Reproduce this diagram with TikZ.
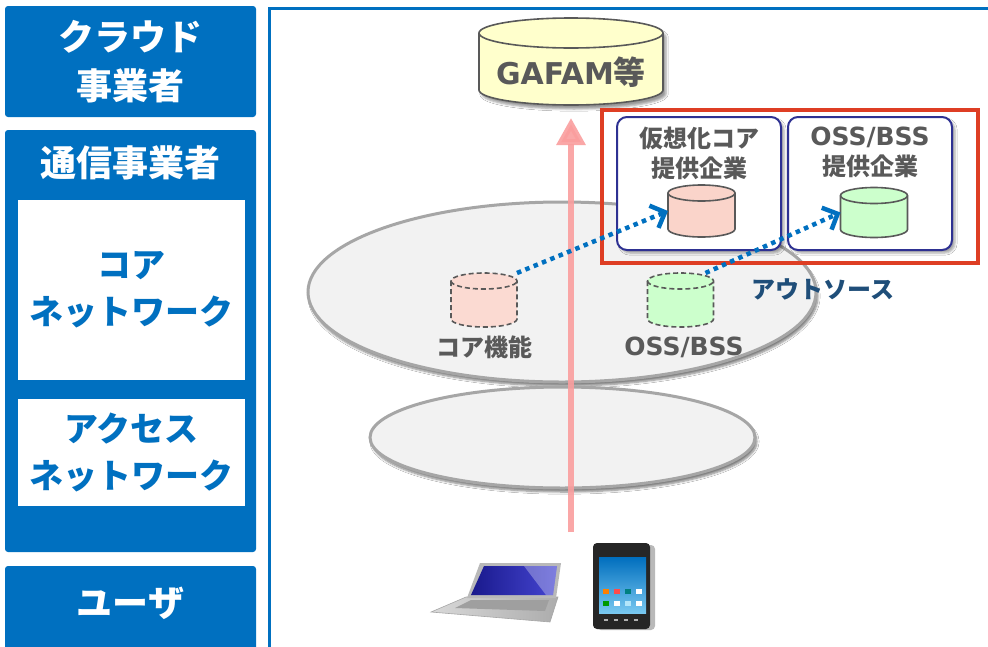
\documentclass[tikz,border=0pt]{standalone}
\usepackage{fontspec}
\setmainfont{Noto Sans CJK JP}
\newfontfamily\latin{DejaVu Sans}
\usetikzlibrary{positioning,shapes.geometric,arrows.meta,shadows.blur}

\definecolor{laybl}{RGB}{0,112,192}
\definecolor{txtgr}{RGB}{89,89,89}
\definecolor{outbl}{RGB}{31,78,121}
\definecolor{frred}{RGB}{222,62,36}
\definecolor{bxnv}{RGB}{46,49,146}
\definecolor{dbyel}{RGB}{255,255,204}
\definecolor{dbpnk}{RGB}{250,212,202}
\definecolor{dbgrn}{RGB}{204,255,204}
\definecolor{upink}{RGB}{250,158,158}
\definecolor{lapbla}{RGB}{25,25,140}
\definecolor{lapblb}{RGB}{70,70,210}
\definecolor{phbla}{RGB}{0,110,190}
\definecolor{phblb}{RGB}{120,200,240}

% cylinder round a named node: [line opts]{node}{half width}{cap}{body opts}
\newcommand\dbcyl[5][]{%
    \filldraw[dbline,#1,#5] ([yshift=-#4]#2.north west) -- ([yshift=#4]#2.south west)
        arc[start angle=180, end angle=360, x radius=#3, y radius=#4]
        -- ([yshift=-#4]#2.north east)
        arc[start angle=0, end angle=180, x radius=#3, y radius=#4] -- cycle;
    \draw[dbline,#1] ([yshift=-#4]#2.north west)
        arc[start angle=180, end angle=360, x radius=#3, y radius=#4];
}

\begin{document}
\begin{tikzpicture}[x=1pt, y=-1pt,
    lay/.style={fill=laybl, rounded corners=3pt, minimum width=251pt,
        inner sep=0pt, outer sep=0pt},
    laytxt/.style={text=white, font=\bfseries\fontsize{36}{49}\selectfont,
        align=center},
    pane/.style={fill=white, minimum width=227pt, inner sep=0pt,
        text=laybl, font=\bfseries\fontsize{34}{47}\selectfont, align=center},
    net/.style={ellipse, draw=gray!70, line width=3pt, fill=gray!10,
        inner sep=0pt,
        blur shadow={shadow xshift=2pt, shadow yshift=-4pt,
            shadow blur steps=6, shadow opacity=50}},
    dbbox/.style={inner sep=0pt, outer sep=0pt},
    dbline/.style={draw=txtgr, line width=1.6pt},
    dbdash/.style={dash pattern=on 5pt off 3pt},
    fnlbl/.style={text=txtgr, font=\bfseries\fontsize{24}{30}\selectfont,
        align=center},
    cobox/.style={draw=bxnv, line width=2pt, fill=white,
        rounded corners=10pt, minimum width=164pt, minimum height=133pt,
        blur shadow={shadow xshift=3pt, shadow yshift=-3pt,
            shadow opacity=35}},
    outs/.style={draw=laybl, line width=4.5pt, dash pattern=on 4.5pt off 4.5pt,
        -{Straight Barb[length=12pt, width=24pt]}}
    ]
    \useasboundingbox (0,0) rectangle (988,646);
    \clip (0,0) rectangle (988,646);
    \fill[white] (0,0) rectangle (988,646);

    % left column
    \node[lay, laytxt, minimum height=111pt] (cloud) at (130.5,61.5) {クラウド\\事業者};
    \node[lay, minimum height=422pt] (carrier) at (130.5,341) {};
    \node[laytxt] (carriertxt) at (130.5,163) {通信事業者};
    \node[pane, minimum height=180pt] (corepane) at (131.5,290) {コア\\ネットワーク};
    \node[pane, minimum height=107pt] (accpane) at (131.5,452.5) {アクセス\\ネットワーク};
    \node[lay, minimum height=100pt, anchor=north] (user) at (130.5,566) {};
    \node[laytxt] (usertxt) at (130.5,603) {ユーザ};

    % right panel
    \draw[laybl, line width=3.5pt] (269.5,700) -- (269.5,8.5) -- (1000,8.5);

    % networks
    \node[net, minimum width=508pt, minimum height=180pt] (corenet) at (562,292) {};
    \node[net, minimum width=385pt, minimum height=101pt] (accnet) at (562.5,437.5) {};

    \node[dbbox, minimum width=66pt, minimum height=54pt] (corefn) at (484,300) {};
    \dbcyl[dbdash]{corefn}{33pt}{8pt}{fill=dbpnk!85}
    \node[fnlbl] (corelbl) at (484,347) {コア機能};
    \node[dbbox, minimum width=66pt, minimum height=54pt] (ossfn) at (680.5,300) {};
    \dbcyl[dbdash]{ossfn}{33pt}{8pt}{fill=dbgrn}
    \node[fnlbl] (osslbl) at (684,347) {{\latin\fontsize{25}{30}\selectfont OSS/BSS}};

    % cloud side
    \node[dbbox, minimum width=184pt, minimum height=87pt] (gafam) at (571,61.5) {};
    \dbcyl{gafam}{92pt}{15pt}{fill=dbyel,
        blur shadow={shadow xshift=3pt, shadow yshift=-4pt, shadow opacity=40}}
    \node[text=txtgr, font=\bfseries\fontsize{32}{38}\selectfont]
        (gafamtxt) at (571,72) {{\latin\fontsize{30}{38}\selectfont GAFAM}等};

    \coordinate (usr) at (571,532);
    \coordinate (up) at (571,118);
    \draw[upink, line width=6pt, opacity=.9,
        -{Triangle[length=27pt, width=28pt]}] (usr) -- (up);

    % outsourcing
    \node[draw=frred, line width=4.5pt, minimum width=376pt, minimum height=153pt,
        inner sep=0pt] (outframe) at (790,186.5) {};
    \node[cobox] (vcbox) at (699,183.5) {};
    \node[fnlbl, below=7pt of vcbox.north] (vctxt) {仮想化コア\\提供企業};
    \node[cobox] (osbox) at (870,183.5) {};
    \node[fnlbl, below=7pt of osbox.north] (ostxt)
        {{\latin\fontsize{25}{30}\selectfont OSS/BSS}\\提供企業};

    \node[dbbox, minimum width=67pt, minimum height=52pt] (vcdb) at (701.5,211) {};
    \dbcyl{vcdb}{33.5pt}{8pt}{fill=dbpnk}
    \node[dbbox, minimum width=67pt, minimum height=50pt] (vossdb) at (874,212.5) {};
    \dbcyl{vossdb}{33.5pt}{8pt}{fill=dbgrn}

    \draw[outs] (corefn.north east) -- (vcdb.west);
    \draw[outs] ([xshift=-8pt]ossfn.north east) -- (vossdb.west);

    \node[text=outbl, font=\bfseries\fontsize{24}{30}\selectfont] (outlbl) at (823,289) {アウトソース};

    % laptop
    \shade[left color=gray!30, right color=gray!65, draw=gray!70, line width=.6pt]
        (466,597) -- (558,597) -- (550,622) -- (431,612) -- cycle;
    \fill[gray!75] (471,600) -- (549,600) -- (545,611) -- (455,608) -- cycle;
    \fill[gray!55] (480,563) -- (561,563) -- (556,598) -- (467,598) -- cycle;
    \shade[left color=lapbla, right color=lapblb]
        (484,566) -- (557,566) -- (553,595) -- (471,595) -- cycle;
    \fill[white, opacity=.3] (524,566) -- (557,566) -- (553,595) -- (546,595) -- cycle;

    % phone
    \fill[gray!55, rounded corners=4pt] (597,545) rectangle (655,630);
    \fill[black!85, rounded corners=4pt] (593,543) rectangle (650,629);
    \shade[top color=phbla, bottom color=phblb] (599,557) rectangle (646,613);
    \foreach \ix/\cola/\colb in {603/orange/green!60!black, 614/red!70/white,
        625/teal/cyan!30, 636/white/white} {
        \fill[\cola] (\ix,589) rectangle ++(6,5);
        \fill[\colb] (\ix,601) rectangle ++(6,5);
    }
    \foreach \ix in {604,614,624,634} {
        \fill[gray!60] (\ix,619) rectangle ++(4,2);
    }
\end{tikzpicture}
\end{document}
